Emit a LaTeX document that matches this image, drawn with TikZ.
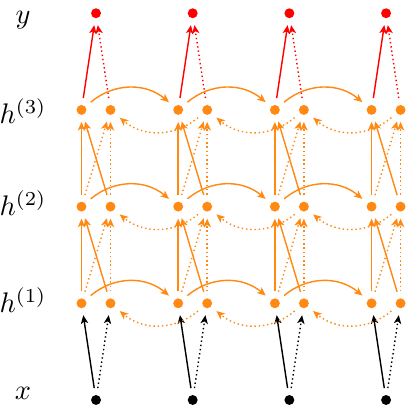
\documentclass[tikz,border=0pt]{standalone}
\usetikzlibrary{arrows.meta}
\definecolor{hidorange}{RGB}{255,137,18}
\tikzset{
	neuron/.style={circle,fill,inner sep=0pt,minimum size=3.5pt,outer sep=2.5pt},
	tip/.style={-{Stealth[length=3pt,width=2.6pt,inset=0.8pt]},line width=0.5pt},
	dots/.style={tip,dash pattern=on 0.5pt off 1pt},
	tag/.style={anchor=base}
}
\newcommand{\uplink}[3]{\draw[tip,hidorange] (f#2-#1) -- (f#3-#1);
	\draw[tip,hidorange] (b#2-#1) -- (f#3-#1);
	\draw[dots,hidorange] (f#2-#1) -- (b#3-#1);
	\draw[dots,hidorange] (b#2-#1) -- (b#3-#1)}
\newcommand{\timestep}[1]{\node[neuron] (x-#1) at (#1,0) {};
	\node[neuron,hidorange] (f1-#1) at ({#1-0.15},1) {};
	\node[neuron,hidorange] (b1-#1) at ({#1+0.15},1) {};
	\node[neuron,hidorange] (f2-#1) at ({#1-0.15},2) {};
	\node[neuron,hidorange] (b2-#1) at ({#1+0.15},2) {};
	\node[neuron,hidorange] (f3-#1) at ({#1-0.15},3) {};
	\node[neuron,hidorange] (b3-#1) at ({#1+0.15},3) {};
	\node[neuron,red] (y-#1) at (#1,4) {};
	\draw[tip] (x-#1) -- (f1-#1);
	\draw[dots] (x-#1) -- (b1-#1);
	\uplink{#1}{1}{2};
	\uplink{#1}{2}{3};
	\draw[tip,red] (f3-#1) -- (y-#1);
	\draw[dots,red] (b3-#1) -- (y-#1)}
\newcommand{\recur}[3]{\draw[tip,hidorange] (f#1-#2) to[out=40,in=140] (f#1-#3);
	\draw[dots,hidorange] (b#1-#3) to[out=-140,in=-40] (b#1-#2)}

\begin{document}
\begin{tikzpicture}[x=1.2cm,y=1.2cm]
	\useasboundingbox (-0.993,-0.134) rectangle (3.289,4.137);
%The time steps
	\timestep{0};
	\timestep{1};
	\timestep{2};
	\timestep{3};
%Links in time
	\recur{1}{0}{1};
	\recur{1}{1}{2};
	\recur{1}{2}{3};
	\recur{2}{0}{1};
	\recur{2}{1}{2};
	\recur{2}{2}{3};
	\recur{3}{0}{1};
	\recur{3}{1}{2};
	\recur{3}{2}{3};
%Names of the rows
	\node[tag] (ny) at (-0.755,3.89) {$y$};
	\node[tag] (nh3) at (-0.755,2.86) {$h^{(3)}$};
	\node[tag] (nh2) at (-0.755,1.91) {$h^{(2)}$};
	\node[tag] (nh1) at (-0.755,0.90) {$h^{(1)}$};
	\node[tag] (nx) at (-0.755,0) {$x$};
\end{tikzpicture}
\end{document}
